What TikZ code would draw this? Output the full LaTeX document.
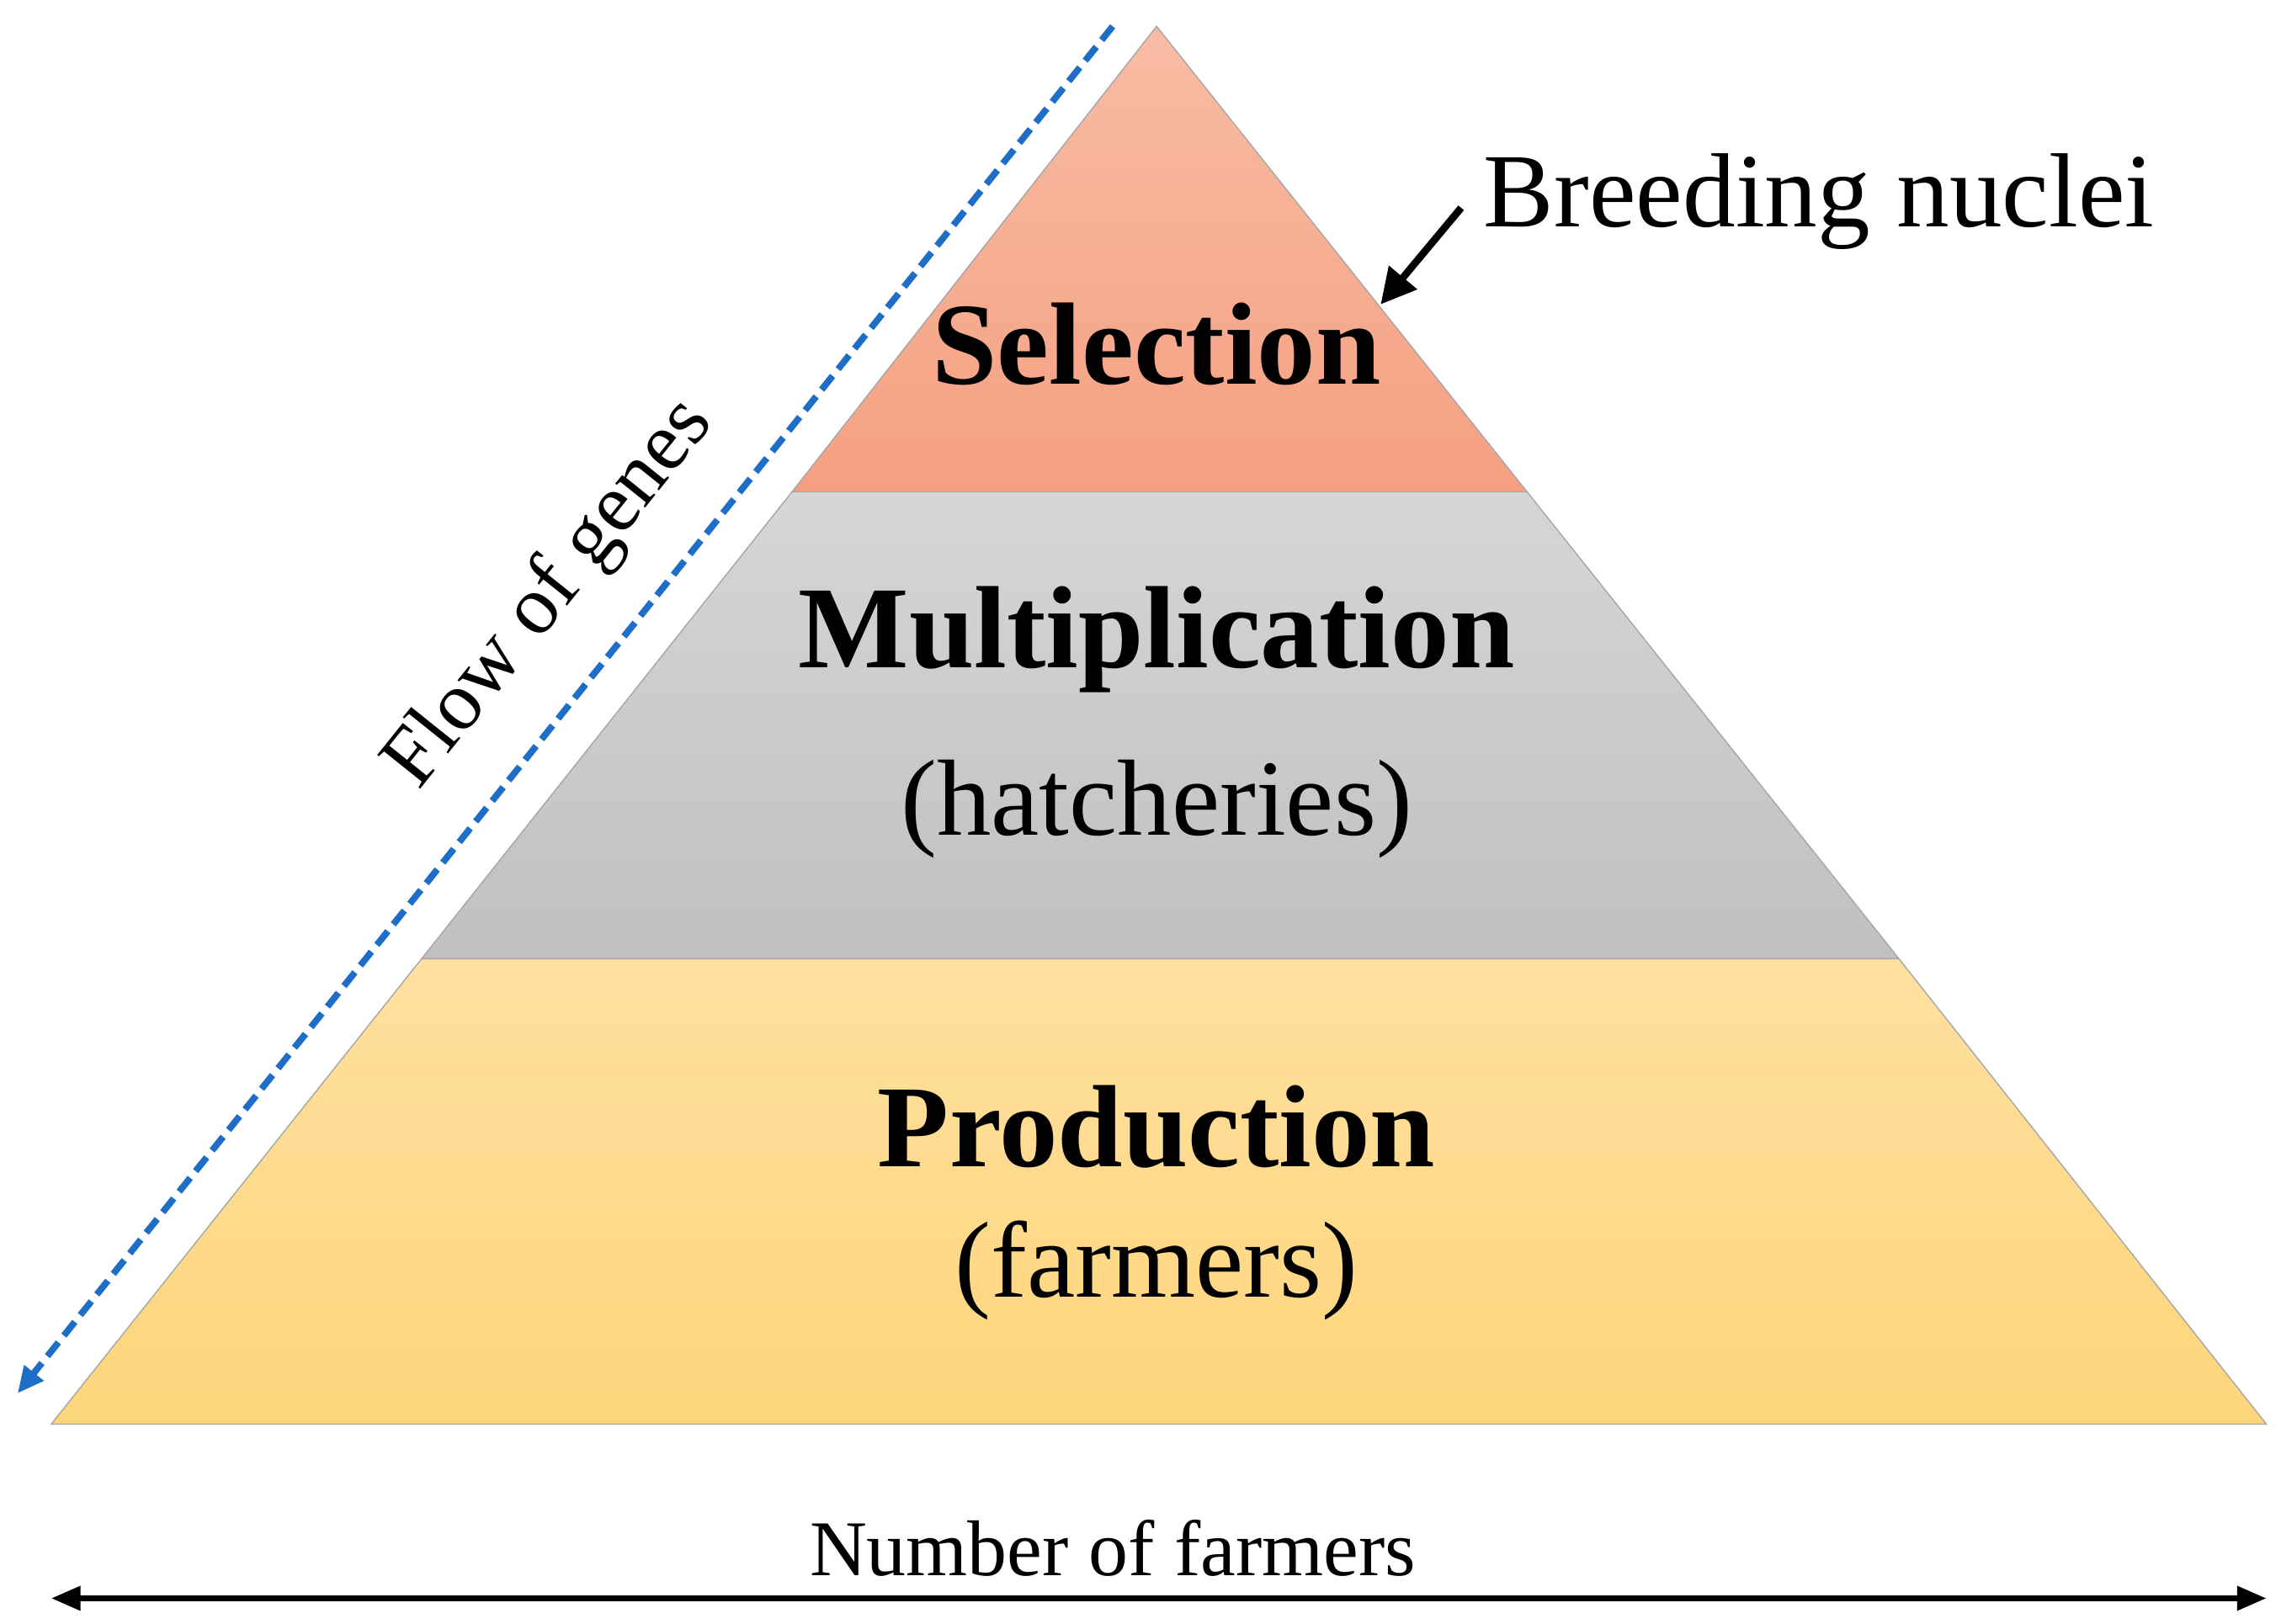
\documentclass[tikz,border=0pt]{standalone}
\usepackage{fontspec}
\setmainfont{Liberation Serif}
\usetikzlibrary{arrows.meta}
\definecolor{flowblue}{RGB}{30,110,200}
\definecolor{saltop}{RGB}{248,188,165}
\definecolor{salbot}{RGB}{245,160,128}
\definecolor{grtop}{RGB}{214,214,214}
\definecolor{grbot}{RGB}{192,192,192}
\definecolor{yetop}{RGB}{255,224,160}
\definecolor{yebot}{RGB}{253,213,122}
\begin{document}
\begin{tikzpicture}[x=1pt,y=-1pt,
  lay/.style={draw=gray!70,line width=0.8pt},
  big/.style={font=\fontsize{80}{90}\selectfont\bfseries},
  sub/.style={font=\fontsize{74}{84}\selectfont}]
\useasboundingbox (0,0) rectangle (1558,1109);
\shade[lay,top color=saltop,bottom color=salbot] (790,18) -- (1043,336) -- (541,336) -- cycle;
\shade[lay,top color=grtop,bottom color=grbot] (541,336) -- (1043,336) -- (1297,655) -- (288,655) -- cycle;
\shade[lay,top color=yetop,bottom color=yebot] (288,655) -- (1297,655) -- (1548,973) -- (35,973) -- cycle;
\node[big] (sel) at (790,235) {Selection};
\node[big] (mul) at (790,437) {Multiplication};
\node[sub] (hat) at (790,553) {(hatcheries)};
\node[big] (pro) at (790,770) {Production};
\node[sub] (far) at (790,868) {(farmers)};
\node[font=\fontsize{72}{80}\selectfont,anchor=west] (bn) at (1010,138) {Breeding nuclei};
\coordinate (bt) at (943,208);
\draw[line width=5pt,-{Triangle[length=24pt,width=24pt]}] (998,142) -- (bt);
\coordinate (fa) at (760,18);
\coordinate (fb) at (12,952);
\draw[flowblue,line width=4.5pt,dash pattern=on 12pt off 6pt,-{Triangle[length=18pt,width=16pt]}] (fa) -- (fb);
\node[font=\fontsize{57}{64}\selectfont,rotate=51.3] (fg) at (376,406) {Flow of genes};
\node[font=\fontsize{54}{62}\selectfont] (nf) at (760,1058) {Number of farmers};
\coordinate (l) at (35,1092);
\coordinate (r) at (1548,1092);
\draw[line width=4pt,{Triangle[length=20pt,width=16pt]}-{Triangle[length=20pt,width=16pt]}] (l) -- (r);
\end{tikzpicture}
\end{document}
